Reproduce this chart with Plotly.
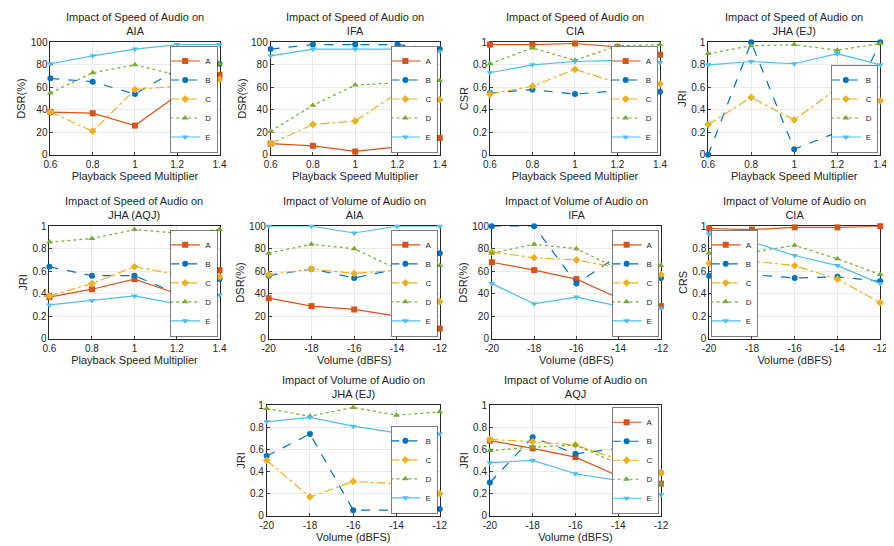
import plotly.graph_objects as go

speed = [0.6, 0.8, 1.0, 1.2, 1.4]
volume = [-20, -18, -16, -14, -12]
series_names = ["A", "B", "C", "D", "E"]

s_aia = {"A": [38, 37, 26, 53, 71], "B": [68, 65, 54, 76, 81], "C": [38, 21, 58, 61, 67], "D": [55, 73, 80, 71, 81], "E": [81, 88, 94, 98, 98]}
s_ifa = {"A": [10, 8, 3, 7, 15], "B": [94, 98, 98, 98, 94], "C": [10, 27, 30, 55, 49], "D": [21, 44, 62, 64, 66], "E": [88, 94, 94, 94, 92]}
s_cia = {"A": [.98, .98, .99, .96, .89], "B": [.55, .58, .54, .57, .56], "C": [.54, .61, .76, .64, .63], "D": [.81, .95, .84, .97, .98], "E": [.73, .80, .83, .84, .82]}
s_ej = {"B": [0, 1, .05, .2, 1], "C": [.27, .51, .31, .59, .48], "D": [.9, .97, .98, .93, .99], "E": [.8, .83, .81, .9, .8]}
s_aqj = {"A": [.37, .44, .53, .4, .61], "B": [.64, .56, .56, .4, .53], "C": [.38, .49, .64, .57, .55], "D": [.86, .89, .97, .94, .97], "E": [.3, .34, .38, .31, .39]}
v_aia = {"A": [36, 29, 26, 20, 9], "B": [56, 62, 54, 62, 76], "C": [57, 62, 58, 61, 33], "D": [76, 84, 80, 62, 65], "E": [100, 100, 94, 100, 100]}
v_ifa = {"A": [68, 61, 53, 36, 29], "B": [100, 100, 49, 74, 54], "C": [77, 72, 70, 63, 57], "D": [76, 84, 80, 62, 65], "E": [49, 31, 37, 29, 27]}
v_cia = {"A": [.98, .97, .99, .99, 1.0], "B": [.56, .57, .54, .55, .51], "C": [.67, .69, .65, .53, .32], "D": [.76, .77, .83, .71, .57], "E": [.93, .86, .74, .65, .49]}
v_ej = {"B": [.54, .74, .05, .05, .06], "C": [.5, .17, .31, .29, .2], "D": [.97, .9, .98, .91, .94], "E": [.85, .89, .81, .75, .74]}
v_aqj = {"A": [.68, .61, .53, .36, .29], "B": [.3, .71, .56, .61, .39], "C": [.69, .67, .64, .51, .39], "D": [.59, .62, .64, .47, .29], "E": [.48, .5, .38, .32, .19]}

colors = {"A": "#D95319", "B": "#0072BD", "C": "#EDB120", "D": "#77AC30", "E": "#4DBEEE"}
dashes = {"A": "solid", "B": "dash", "C": "dashdot", "D": "dot", "E": "solid"}
symbols = {"A": "square", "B": "circle", "C": "diamond", "D": "triangle-up", "E": "triangle-down"}

W, H = 894, 546
panels = [
    ("Impact of Speed of Audio on<br>AIA", s_aia, speed, "DSR(%)", True, (36, 208, 29, 144), "br"),
    ("Impact of Speed of Audio on<br>IFA", s_ifa, speed, "DSR(%)", True, (260, 432, 29, 144), "br"),
    ("Impact of Speed of Audio on<br>CIA", s_cia, speed, "CSR", False, (483, 656, 29, 144), "br"),
    ("Impact of Speed of Audio on<br>JHA (EJ)", s_ej, speed, "JRI", False, (705, 880, 29, 144), "br"),
    ("Impact of Speed of Audio on<br>JHA (AQJ)", s_aqj, speed, "JRI", False, (35, 208, 217, 332), "br"),
    ("Impact of Volume of Audio on<br>AIA", v_aia, volume, "DSR(%)", True, (258, 432, 217, 332), "br"),
    ("Impact of Volume of Audio on<br>IFA", v_ifa, volume, "DSR(%)", True, (485, 657, 217, 332), "br"),
    ("Impact of Volume of Audio on<br>CIA", v_cia, volume, "CRS", False, (706, 880, 217, 332), "bl"),
    ("Impact of Volume of Audio on<br>JHA (EJ)", v_ej, volume, "JRI", False, (256, 432, 400, 513), "br"),
    ("Impact of Volume of Audio on<br>AQJ", v_aqj, volume, "JRI", False, (483, 657, 400, 513), "tr"),
]

fig = go.Figure()
layout = {}
for i, (title, data, xs, ylab, pct, box, corner) in enumerate(panels):
    n = i + 1
    sfx = "" if n == 1 else str(n)
    x0, x1, yt, yb = box
    leg = "legend" if n == 1 else f"legend{n}"
    for name in series_names:
        if name not in data:
            continue
        fig.add_trace(go.Scatter(
            x=xs, y=data[name], name=name, mode="lines+markers", cliponaxis=False,
            line=dict(color=colors[name], dash=dashes[name], width=1.2),
            marker=dict(symbol=symbols[name], size=6, color=colors[name]),
            xaxis=f"x{sfx}", yaxis=f"y{sfx}", legend=leg))
    if xs is speed:
        xt = dict(tickvals=speed, ticktext=["0.6", "0.8", "1", "1.2", "1.4"], range=[0.6, 1.4], title_text="Playback Speed Multiplier")
    else:
        xt = dict(tickvals=volume, ticktext=[str(v) for v in volume], range=[-20, -12], title_text="Volume (dBFS)")
    if pct:
        yt_ = dict(range=[0, 100], tickvals=[0, 20, 40, 60, 80, 100])
    else:
        yt_ = dict(range=[0, 1], tickvals=[0, 0.2, 0.4, 0.6, 0.8, 1], ticktext=["0", "0.2", "0.4", "0.6", "0.8", "1"])
    common = dict(showline=True, linecolor="#262626", linewidth=0.8, mirror=True, ticks="inside", ticklen=3,
                  showgrid=True, gridcolor="#ebebeb", zeroline=False, tickfont=dict(size=10, color="#262626"),
                  title_font=dict(size=11, color="#262626"), title_standoff=2, layer="below traces")
    layout[f"xaxis{sfx}"] = dict(domain=[x0 / W, x1 / W], anchor=f"y{sfx}", **xt, **common)
    layout[f"yaxis{sfx}"] = dict(domain=[1 - yb / H, 1 - yt / H], anchor=f"x{sfx}", title_text=ylab, **yt_, **common)
    if corner == "br":
        lx, ly, xa, ya = x1 - 2, yb - 2, "right", "bottom"
    elif corner == "bl":
        lx, ly, xa, ya = x0 + 2, yb - 2, "left", "bottom"
    else:
        lx, ly, xa, ya = x1 - 2, yt + 2, "right", "top"
    layout[leg] = dict(x=lx / W, y=1 - ly / H, xanchor=xa, yanchor=ya, bgcolor="white",
                       bordercolor="#262626", borderwidth=0.6, font=dict(size=8), tracegroupgap=0,
                       itemwidth=30, itemsizing="trace", indentation=-6)
    fig.add_annotation(text=title, x=(x0 + x1) / 2 / W, y=1 - (yt - 3) / H, xref="paper", yref="paper",
                       showarrow=False, xanchor="center", yanchor="bottom", font=dict(size=11, color="#262626"))

fig.update_layout(width=W, height=H, margin=dict(l=0, r=0, t=0, b=0), plot_bgcolor="white",
                  paper_bgcolor="white", font=dict(family="Liberation Sans, Arial", color="#262626"), **layout)
fig.write_html("out.html")
